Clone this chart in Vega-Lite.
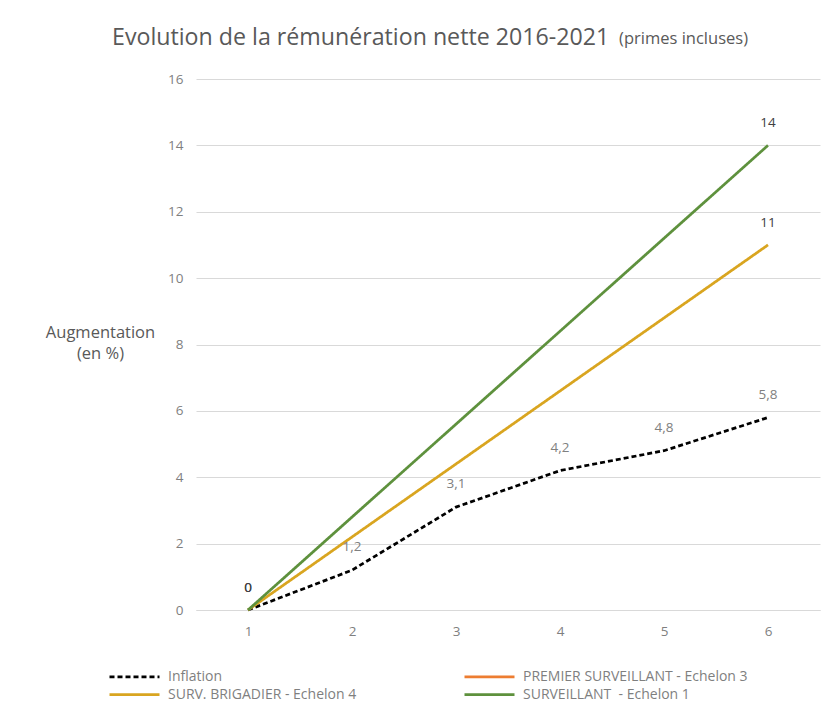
{
  "$schema": "https://vega.github.io/schema/vega-lite/v6.json",
  "autosize": {"type": "none"},
  "padding": {"left": 196, "top": 79, "right": 11, "bottom": 117},
  "width": 624,
  "height": 531,
  "background": "white",
  "title": {
    "text": "Evolution de la rémunération nette 2016-2021",
    "anchor": "start",
    "frame": "group",
    "dx": -84,
    "offset": -37,
    "baseline": "alphabetic",
    "fontSize": 23.2,
    "fontWeight": "normal",
    "color": "#595959"
  },
  "data": {
    "values": [
      {"serie": "Inflation", "x": 1, "y": 0},
      {"serie": "Inflation", "x": 2, "y": 1.2},
      {"serie": "Inflation", "x": 3, "y": 3.1},
      {"serie": "Inflation", "x": 4, "y": 4.2},
      {"serie": "Inflation", "x": 5, "y": 4.8},
      {"serie": "Inflation", "x": 6, "y": 5.8},
      {"serie": "SURV. BRIGADIER - Echelon 4", "x": 1, "y": 0},
      {"serie": "SURV. BRIGADIER - Echelon 4", "x": 6, "y": 11},
      {"serie": "SURVEILLANT\u00a0 - Echelon 1", "x": 1, "y": 0},
      {"serie": "SURVEILLANT\u00a0 - Echelon 1", "x": 6, "y": 14}
    ]
  },
  "encoding": {
    "x": {
      "field": "x",
      "type": "ordinal",
      "title": null,
      "axis": {
        "labelAngle": 0,
        "ticks": false,
        "domainColor": "#d9d9d9",
        "labelPadding": 14
      }
    },
    "y": {
      "field": "y",
      "type": "quantitative",
      "scale": {"domain": [0, 16]},
      "title": ["Augmentation", "(en %)"],
      "axis": {
        "values": [0, 2, 4, 6, 8, 10, 12, 14, 16],
        "domain": false,
        "ticks": false,
        "labelPadding": 13,
        "titleAngle": 0,
        "titleAlign": "center",
        "titleBaseline": "top",
        "titleX": -96,
        "titleY": 245,
        "titleFontSize": 16.5,
        "titleFontWeight": "normal",
        "titleLineHeight": 21,
        "titleColor": "#595959"
      }
    }
  },
  "layer": [
    {
      "mark": {"type": "line", "strokeWidth": 2.75},
      "encoding": {
        "color": {
          "field": "serie",
          "type": "nominal",
          "title": null,
          "scale": {
            "domain": ["Inflation", "PREMIER SURVEILLANT - Echelon 3", "SURV. BRIGADIER - Echelon 4", "SURVEILLANT\u00a0 - Echelon 1"],
            "range": ["#000000", "#ED7D31", "#D9A520", "#5E913D"]
          }
        },
        "strokeDash": {
          "field": "serie",
          "type": "nominal",
          "title": null,
          "scale": {
            "domain": ["Inflation", "PREMIER SURVEILLANT - Echelon 3", "SURV. BRIGADIER - Echelon 4", "SURVEILLANT\u00a0 - Echelon 1"],
            "range": [[5, 3], [1, 0], [1, 0], [1, 0]]
          }
        }
      }
    },
    {
      "transform": [{"filter": "datum.serie == 'Inflation' && datum.x > 1"}],
      "mark": {"type": "text", "dy": -23, "fontSize": 13.5, "color": "#808080"},
      "encoding": {
        "text": {"field": "y", "type": "quantitative", "format": ".1~f"}
      }
    },
    {
      "transform": [{"filter": "datum.serie != 'Inflation'"}],
      "mark": {"type": "text", "dy": -22, "fontSize": 13.5, "color": "#404040"},
      "encoding": {
        "text": {"field": "y", "type": "quantitative", "format": ".1~f"}
      }
    },
    {
      "transform": [{"filter": "datum.serie == 'Inflation' && datum.x == 6"}],
      "mark": {
        "type": "text",
        "align": "right",
        "baseline": "alphabetic",
        "dx": -20,
        "dy": -35,
        "fontSize": 16.5,
        "color": "#595959"
      },
      "encoding": {
        "x": {"datum": 6, "type": "ordinal"},
        "y": {"datum": 16, "type": "quantitative"},
        "text": {"value": "(primes incluses)"}
      }
    }
  ],
  "config": {
    "font": "Open Sans",
    "view": {"stroke": null},
    "locale": {
      "number": {"decimal": ",", "thousands": "\u00a0", "grouping": [3], "currency": ["", "\u00a0€"]}
    },
    "axis": {
      "labelFontSize": 13.5,
      "labelColor": "#7f7f7f",
      "gridColor": "#d9d9d9",
      "gridWidth": 1
    },
    "axisX": {"grid": false},
    "legend": {
      "orient": "none",
      "legendX": -88,
      "legendY": 588,
      "direction": "horizontal",
      "columns": 2,
      "columnPadding": 102,
      "rowPadding": 1,
      "symbolType": "M-1,0H5.25",
      "symbolSize": 256,
      "symbolStrokeWidth": 2.75,
      "labelFontSize": 14,
      "labelColor": "#7f7f7f",
      "labelOffset": 41,
      "labelLimit": 300
    }
  }
}
